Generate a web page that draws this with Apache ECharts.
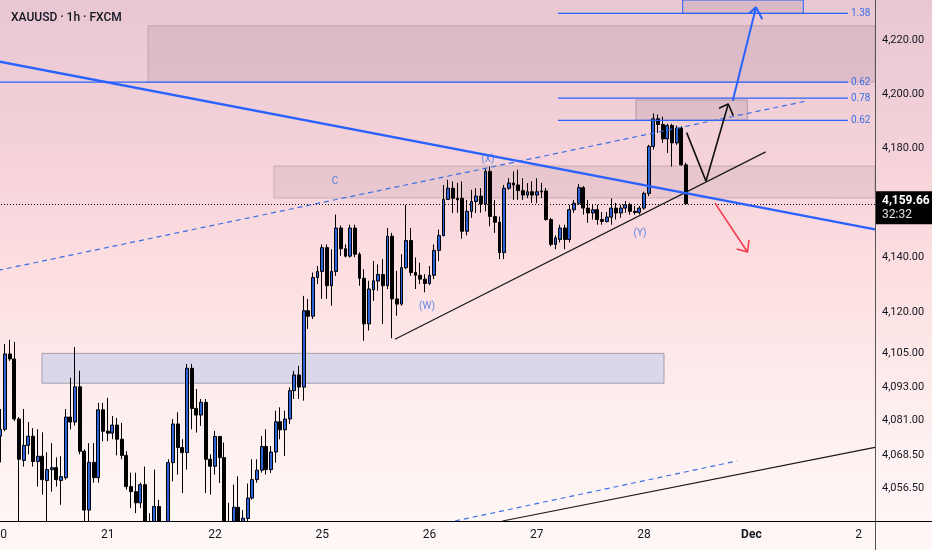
<!DOCTYPE html>
<html><head><meta charset="utf-8">
<script src="https://cdn.jsdelivr.net/npm/echarts@6/dist/echarts.min.js"></script>
<style>html,body{margin:0;padding:0;background:#fff}#c{width:932px;height:550px}</style>
</head><body><div id="c"></div>
<script>
// ---- DATA ----
const title = 'XAUUSD · 1h · FXCM';
const barSlots = 188;
const dayTicks = [[0,'20'],[23,'21'],[46,'22'],[69,'25'],[92,'26'],[115,'27'],[138,'28'],[161,'Dec'],[184,'2']];
// [open, close, low, high]
const ohlc = [
[4075.2,4077.7,4065.8,4085.0],[4077.7,4104.9,4077.0,4108.5],[4104.9,4103.1,4102.4,4110.0],[4103.1,4081.4,4080.6,4109.3],
[4081.4,4066.9,4041.5,4082.1],[4066.5,4071.9,4064.3,4085.0],[4071.9,4075.2,4068.7,4080.3],[4075.2,4066.1,4064.3,4078.1],
[4066.1,4068.0,4057.1,4077.7],[4068.0,4059.6,4054.2,4076.6],[4059.3,4063.2,4041.5,4069.4],[4063.2,4063.9,4055.3,4072.7],
[4063.9,4059.6,4057.1,4067.6],[4059.3,4060.7,4050.6,4068.0],[4060.3,4082.1,4059.6,4085.0],[4082.1,4080.3,4077.7,4096.3],
[4080.3,4093.0,4079.0,4107.4],[4093.0,4069.8,4068.7,4098.8],[4069.8,4048.7,4041.5,4070.5],[4048.7,4065.8,4041.5,4072.7],
[4065.8,4060.3,4058.5,4072.7],[4060.3,4084.7,4058.5,4087.2],[4084.7,4077.0,4073.4,4087.2],[4077.0,4076.3,4073.4,4089.0],
[4076.3,4079.2,4074.1,4082.5],[4079.2,4074.1,4068.3,4081.8],[4074.1,4068.3,4066.9,4080.0],[4068.3,4057.1,4056.0,4069.8],
[4057.1,4055.3,4049.4,4062.1],[4055.3,4051.3,4047.6,4062.1],[4051.3,4057.8,4049.4,4058.5],[4057.8,4041.5,4036.0,4064.3],
[4041.5,4039.0,4034.0,4047.6],[4039.0,4050.0,4035.0,4063.2],[4050.0,4040.0,4035.0,4052.4],[4040.0,4038.0,4033.0,4043.0],
[4038.0,4065.7,4034.0,4066.9],[4065.7,4079.6,4059.0,4081.4],[4079.6,4071.1,4061.4,4083.8],[4071.1,4069.3,4054.8,4074.1],
[4069.3,4099.7,4063.2,4101.3],[4099.7,4085.2,4077.7,4101.3],[4085.2,4082.8,4076.5,4092.2],[4082.8,4087.4,4078.9,4088.6],
[4087.4,4066.9,4054.8,4088.6],[4066.9,4064.4,4054.2,4068.7],[4064.4,4075.1,4061.4,4077.1],[4075.1,4067.5,4058.4,4075.3],
[4067.5,4040.0,4035.0,4072.9],[4040.0,4042.0,4035.0,4051.3],[4042.0,4049.7,4036.0,4057.8],[4049.7,4041.0,4036.0,4060.8],
[4041.0,4045.8,4038.0,4048.7],[4045.7,4053.0,4044.7,4058.2],[4053.0,4059.6,4052.4,4066.9],[4059.6,4063.0,4058.5,4066.9],
[4063.0,4071.5,4062.1,4075.3],[4071.5,4063.2,4061.4,4077.7],[4063.2,4069.5,4062.0,4071.7],[4069.5,4080.4,4065.7,4084.4],
[4080.4,4077.5,4074.1,4085.6],[4077.5,4081.4,4068.1,4084.4],[4081.4,4091.6,4079.6,4092.8],[4091.6,4097.3,4088.6,4098.8],
[4097.3,4092.9,4088.6,4100.6],[4092.9,4120.6,4088.0,4126.0],[4120.6,4118.6,4114.0,4124.9],[4118.6,4132.7,4117.6,4134.5],
[4132.7,4134.9,4130.3,4136.9],[4134.9,4143.6,4124.9,4144.8],[4143.6,4129.7,4124.9,4144.8],[4129.7,4134.9,4122.4,4143.0],
[4134.9,4150.8,4133.3,4155.7],[4150.8,4143.2,4140.5,4151.7],[4143.2,4140.5,4140.0,4144.8],[4140.5,4150.8,4140.0,4152.0],
[4150.8,4141.2,4140.1,4152.0],[4141.2,4132.4,4129.7,4141.9],[4132.4,4115.8,4109.7,4135.7],[4115.8,4128.5,4113.4,4131.5],
[4128.2,4131.5,4124.2,4138.7],[4131.4,4133.8,4127.9,4137.5],[4133.8,4129.7,4115.8,4139.4],[4129.7,4147.8,4128.5,4150.8],
[4147.8,4124.9,4110.6,4149.0],[4124.9,4123.0,4118.8,4135.1],[4123.0,4136.3,4122.4,4141.2],[4136.3,4146.2,4135.7,4159.3],
[4146.2,4134.5,4133.3,4150.8],[4134.5,4133.5,4128.5,4140.0],[4133.5,4132.1,4130.3,4138.1],[4132.1,4130.5,4127.3,4133.9],
[4130.5,4133.5,4129.9,4136.9],[4133.5,4142.6,4132.1,4144.8],[4142.6,4148.0,4138.7,4150.2],[4148.0,4161.3,4147.8,4166.6],
[4161.3,4165.4,4161.1,4168.5],[4165.4,4161.7,4156.3,4167.9],[4161.7,4161.1,4156.4,4167.4],[4161.7,4149.6,4146.9,4167.9],
[4149.6,4156.9,4148.1,4161.1],[4156.9,4160.5,4154.5,4164.8],[4160.5,4162.5,4156.3,4165.4],[4162.5,4159.6,4156.4,4165.4],
[4159.6,4171.6,4156.9,4172.8],[4171.6,4155.0,4151.4,4173.4],[4155.0,4152.9,4149.0,4161.1],[4152.9,4141.8,4139.4,4155.0],
[4141.8,4165.4,4139.4,4166.6],[4165.4,4167.3,4164.8,4169.1],[4167.3,4166.6,4161.1,4171.6],[4166.6,4164.5,4161.1,4172.2],
[4164.5,4162.9,4161.1,4169.1],[4162.9,4164.1,4161.8,4167.3],[4164.1,4162.9,4160.0,4167.9],[4162.9,4164.1,4159.9,4169.1],
[4164.1,4164.4,4161.8,4167.4],[4164.4,4153.9,4153.5,4165.5],[4153.9,4144.8,4144.1,4154.5],[4144.8,4147.2,4143.0,4148.1],
[4146.6,4150.8,4145.5,4152.0],[4150.8,4146.6,4143.0,4152.0],[4146.6,4157.5,4145.5,4159.3],[4157.5,4159.9,4156.4,4161.1],
[4159.9,4165.6,4159.3,4167.0],[4165.6,4158.1,4155.7,4166.2],[4158.1,4156.3,4152.7,4161.1],[4156.3,4157.5,4153.9,4159.3],
[4157.5,4153.9,4152.0,4159.3],[4153.9,4153.2,4152.0,4156.7],[4153.2,4154.8,4152.8,4156.7],[4154.8,4158.1,4152.0,4161.7],
[4158.1,4156.3,4153.9,4160.0],[4156.3,4158.1,4154.6,4159.3],[4158.1,4159.3,4156.4,4160.7],[4159.3,4156.9,4155.7,4160.0],
[4156.9,4156.5,4155.7,4158.9],[4156.5,4158.1,4155.7,4158.9],[4158.1,4163.5,4157.5,4164.1],[4163.5,4180.8,4162.5,4181.4],
[4180.8,4191.0,4179.6,4193.0],[4191.0,4188.9,4185.8,4192.6],[4188.9,4183.6,4182.1,4191.8],[4183.6,4188.5,4178.4,4189.2],
[4188.5,4182.1,4173.4,4189.2],[4182.1,4187.6,4181.4,4188.5],[4187.6,4174.0,4173.7,4188.2],[4174.0,4159.66,4159.3,4174.8]
];
const priceTicks = [4220, 4200, 4180, 4140, 4120, 4105, 4093, 4081, 4068.5, 4056.5];
const priceMin = 4044.8, priceMax = 4235.2;
const lastPrice = 4159.66;
const countdown = '32:32';

// drawings: [barIndex, price]
const trendDown = [[-0.5, 4212.3], [187.5, 4150.3]];
const channelUpper = [[-0.5, 4135.3], [173.13, 4197.7]];
const channelLower = [[97.46, 4044.8], [157.92, 4066.3]];
const baseLine = [[107.65, 4044.8], [187.5, 4071.2]];
const triangleLine = [[84.6, 4110.2], [164.07, 4178.8]];
const zigzagPath = [[147.13, 4185.9], [151.27, 4168.0], [156.05, 4196.5]];
const zigzagHead = [[154.06, 4194.9], [156.05, 4196.5], [157.12, 4192.2]];
const bullArrow = [[157.0, 4197.7], [161.99, 4232.5]];
const bullHead = [[160.49, 4230.2], [161.99, 4232.5], [163.34, 4228.0]];
const bearArrow = [[153.2, 4159.9], [160.16, 4142.0]];
const bearHead = [[157.85, 4143.1], [160.16, 4142.0], [160.49, 4146.4]];
// fib levels: [label, startBar, price]
const fibLevels = [['1.38', 119.54, 4230.2], ['0.62', -0.5, 4204.6], ['0.78', 119.54, 4198.7], ['0.62', 119.54, 4190.4]];
const fibEndBar = 181.71;
// zones: [barFrom, priceLow, barTo, priceHigh]
const zoneSupplyTop = [31.65, 4204.6, 187.5, 4225.6];
const zoneTarget = [146.27, 4230.2, 172.13, 4235.2];
const zoneFib = [136.26, 4190.5, 160.12, 4198.0];
const zoneC = [58.66, 4161.8, 187.5, 4173.6];
const zoneDemand = [8.93, 4094.3, 142.27, 4105.1];
// text marks: [text, bar, price]
const waveLabels = [['(X)', 104.54, 4175.8], ['(W)', 91.46, 4122.3], ['(Y)', 137.12, 4148.9], ['C', 71.74, 4168.0]];

// ---- CHART ----
const tickMap = new Map(dayTicks);
const categories = Array.from({length: barSlots}, (_, i) => tickMap.has(i) ? tickMap.get(i) : 'b' + i);
const fmt = v => v.toLocaleString('en-US', {minimumFractionDigits: 2, maximumFractionDigits: 2});
const BLUE = '#2962ff';

function seg(data, color, width, type, z) {
  return {type: 'line', xAxisIndex: 1, yAxisIndex: 0, data: data, symbol: 'none', silent: true, z: z || 6, clip: true,
    lineStyle: {color: color, width: width, type: type || 'solid'}};
}
function zone(r, fill, border) {
  return [{xAxis: r[0], yAxis: r[1], itemStyle: {color: fill, borderColor: border, borderWidth: 1}}, {xAxis: r[2], yAxis: r[3]}];
}

const series = [];
series.push({type: 'line', xAxisIndex: 1, yAxisIndex: 0, data: [], z: 1, silent: true,
  markArea: {silent: true, data: [
    zone(zoneSupplyTop, 'rgba(140,115,130,0.17)', 'rgba(140,115,130,0.35)'),
    zone(zoneTarget, 'rgba(140,115,130,0.16)', BLUE),
    zone(zoneFib, 'rgba(140,115,130,0.18)', 'rgba(120,110,130,0.5)'),
    zone(zoneC, 'rgba(140,115,130,0.14)', 'rgba(140,115,130,0.35)'),
    zone(zoneDemand, 'rgba(205,208,235,0.75)', 'rgba(120,115,130,0.6)')
  ]}});

const tickLines = priceTicks.map(p => ({yAxis: p, lineStyle: {color: 'rgba(0,0,0,0)', width: 1, type: 'solid'},
  label: {show: true, position: 'end', formatter: fmt(p), color: '#131722', fontSize: 11, distance: 7}}));
series.push({type: 'candlestick', xAxisIndex: 0, yAxisIndex: 0, data: ohlc, barWidth: 3.4, z: 4, clip: true,
  itemStyle: {color: '#2a62d9', color0: '#000000', borderColor: '#000000', borderColor0: '#000000', borderWidth: 1},
  markLine: {silent: true, symbol: ['none', 'none'], animation: false,
    label: {show: true, position: 'end'},
    data: tickLines.concat([{yAxis: lastPrice, lineStyle: {color: '#000', width: 1, type: [1, 2]},
      label: {position: 'end', distance: 1, offset: [0, 4],
        formatter: '{p|' + fmt(lastPrice) + '}\n{t|' + countdown + '}',
        backgroundColor: '#000', padding: [2, 8, 2, 6],
        rich: {p: {color: '#fff', fontSize: 12, fontWeight: 'bold', lineHeight: 15},
               t: {color: '#e0e0e0', fontSize: 12, lineHeight: 14}}}}])}});

series.push(seg(trendDown, BLUE, 2.5, 'solid', 7));
series.push(seg(channelUpper, '#3b6fe6', 1.2, [5, 4]));
series.push(seg(channelLower, '#3b6fe6', 1.2, [5, 4]));
series.push(seg(baseLine, '#1a1a1a', 1.2));
series.push(seg(triangleLine, '#1a1a1a', 1.2));
series.push(seg(zigzagPath, '#111', 1.6));
series.push(seg(zigzagHead, '#111', 1.6));
series.push(seg(bullArrow, BLUE, 2));
series.push(seg(bullHead, BLUE, 2));
series.push(seg(bearArrow, '#f23645', 1.5));
series.push(seg(bearHead, '#f23645', 1.5));
fibLevels.forEach(f => {
  const s = seg([[f[1], f[2]], [fibEndBar, f[2]]], BLUE, 1.3, 'solid', 5);
  s.endLabel = {show: true, formatter: f[0], color: '#3a6ee8', fontSize: 10, distance: 3};
  series.push(s);
});
series.push({type: 'scatter', xAxisIndex: 1, yAxisIndex: 0, symbolSize: 1, silent: true, z: 8,
  itemStyle: {color: 'rgba(0,0,0,0)'},
  data: waveLabels.map(w => ({value: [w[1], w[2]], name: w[0]})),
  label: {show: true, position: 'inside', formatter: p => p.name, color: '#3a6ee8', fontSize: 10}});

const chart = echarts.init(document.getElementById('c'), null, {renderer: 'canvas'});
chart.setOption({
  animation: false,
  textStyle: {fontFamily: 'Roboto, "Noto Sans", sans-serif'},
  title: {text: title, left: 6, top: 7, textStyle: {fontSize: 12, fontWeight: 500, color: '#131722'}},
  graphic: [
    {type: 'rect', z: -100, silent: true, shape: {x: 0, y: 0, width: 932, height: 550},
      style: {fill: {type: 'linear', x: 0, y: 0, x2: 0, y2: 1, colorStops: [
        {offset: 0, color: '#e8c7d2'}, {offset: 0.3, color: '#f6d3da'}, {offset: 0.5, color: '#fddfe1'},
        {offset: 0.75, color: '#fdeeee'}, {offset: 1, color: '#fff8f8'}]}}},
    // mask below the plot so candles that run past the bottom edge are cut at the axis
    {type: 'rect', z: 9, silent: true, shape: {x: 0, y: 522, width: 932, height: 28}, style: {fill: '#fff6f6'}},
    {type: 'line', z: 12, silent: true, shape: {x1: 875.5, y1: 521, x2: 875.5, y2: 550}, style: {stroke: '#555', lineWidth: 1}},
    {type: 'line', z: 12, silent: true, shape: {x1: 875, y1: 521.5, x2: 932, y2: 521.5}, style: {stroke: '#000', lineWidth: 1}}
  ],
  grid: {left: -2, right: 57, top: 0, bottom: 29, containLabel: false, outerBoundsMode: 'none'},
  xAxis: [
    {type: 'category', data: categories, boundaryGap: true, z: 10,
      axisLine: {show: true, onZero: false, lineStyle: {color: '#000', width: 1}}, axisTick: {show: false}, splitLine: {show: false},
      axisLabel: {interval: i => tickMap.has(i), color: '#131722', fontSize: 12, margin: 8, hideOverlap: false,
        formatter: v => v === 'Dec' ? '{b|Dec}' : v, rich: {b: {fontWeight: 'bold', fontSize: 12, color: '#131722'}}}},
    {type: 'value', min: -0.5, max: barSlots - 0.5, show: false}
  ],
  yAxis: {type: 'log', logBase: 10, min: priceMin, max: priceMax, position: 'right', z: 10,
    axisLine: {show: true, onZero: false, lineStyle: {color: '#555', width: 1}}, axisTick: {show: false},
    axisLabel: {show: false}, splitLine: {show: false}},
  series: series
});
</script></body></html>
